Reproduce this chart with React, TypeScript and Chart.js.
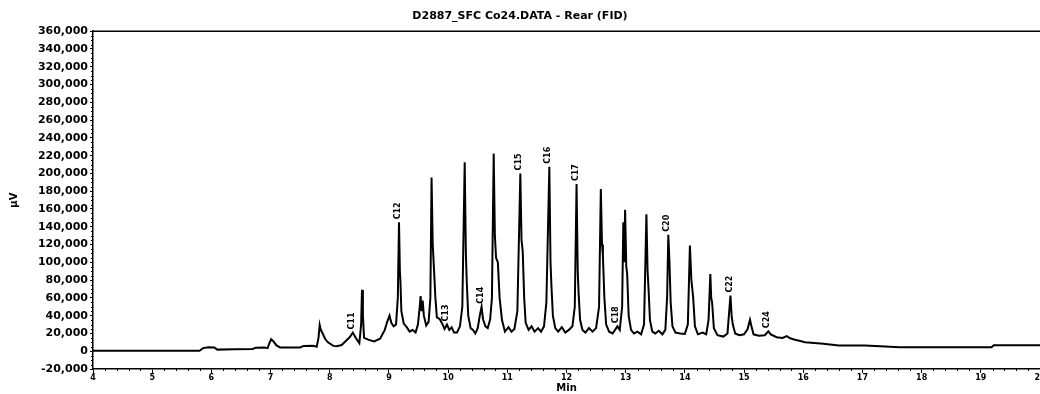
import { useEffect, useRef } from 'react';
import { Chart, registerables } from 'chart.js';

Chart.register(...registerables);

const TITLE = 'D2887_SFC Co24.DATA - Rear (FID)';
const X_TITLE = 'Min';
const Y_TITLE = 'µV';

// Retention time (min) of each trace point
const TRACE_TIME = [
  4.0, 5.8, 5.86, 5.95, 6.05, 6.1, 6.4, 6.7, 6.75, 6.9, 6.95, 6.98, 7.01, 7.05, 7.1, 7.16, 7.5, 7.56, 7.72, 7.78,
  7.81, 7.83, 7.85, 7.88, 7.92, 7.97, 8.06, 8.12, 8.2, 8.28, 8.34, 8.39, 8.44, 8.5, 8.53, 8.545, 8.56, 8.58, 8.65, 8.75,
  8.85, 8.93, 8.97, 9.01, 9.04, 9.08, 9.12, 9.15, 9.17, 9.185, 9.195, 9.21, 9.25, 9.3, 9.35, 9.4, 9.45, 9.49, 9.52, 9.535,
  9.55, 9.57, 9.59, 9.63, 9.67, 9.7, 9.72, 9.74, 9.76, 9.785, 9.81, 9.86, 9.9, 9.94, 9.98, 10.02, 10.06, 10.1, 10.15, 10.2,
  10.24, 10.28, 10.3, 10.315, 10.34, 10.38, 10.42, 10.46, 10.5, 10.535, 10.565, 10.59, 10.63, 10.67, 10.71, 10.74, 10.77, 10.79, 10.81, 10.84,
  10.87, 10.91, 10.96, 11.02, 11.07, 11.12, 11.17, 11.22, 11.24, 11.26, 11.285, 11.31, 11.36, 11.41, 11.46, 11.52, 11.57, 11.62, 11.66, 11.71,
  11.73, 11.745, 11.77, 11.81, 11.86, 11.92, 11.98, 12.04, 12.1, 12.14, 12.17, 12.19, 12.205, 12.23, 12.27, 12.32, 12.38, 12.44, 12.5, 12.55,
  12.58, 12.6, 12.615, 12.64, 12.67, 12.72, 12.78, 12.82, 12.86, 12.9, 12.94, 12.96, 12.975, 12.99, 13.01, 13.025, 13.05, 13.09, 13.14, 13.2,
  13.26, 13.31, 13.35, 13.37, 13.385, 13.41, 13.45, 13.5, 13.56, 13.62, 13.67, 13.7, 13.72, 13.74, 13.76, 13.79, 13.84, 13.92, 14.0, 14.05,
  14.085, 14.11, 14.14, 14.17, 14.22, 14.3, 14.36, 14.4, 14.43, 14.445, 14.46, 14.49, 14.55, 14.65, 14.72, 14.77, 14.79, 14.81, 14.85, 14.92,
  15.0, 15.06, 15.1, 15.125, 15.16, 15.25, 15.35, 15.41, 15.45, 15.55, 15.65, 15.72, 15.78, 15.86, 15.95, 16.03, 16.34, 16.6, 17.04, 17.3,
  17.63, 19.18, 19.22, 20.0,
];

// Detector signal (µV) at each trace point
const TRACE_UV = [
  500, 600, 3500, 4500, 4200, 1800, 2200, 2600, 4000, 4200, 3500, 9000, 13500, 11000, 6500, 4200, 4300, 6000, 6200, 5000,
  15000, 29600, 24000, 20000, 14000, 10000, 6000, 5500, 7000, 12000, 16000, 21000, 15000, 9000, 30000, 69000, 40000, 15000, 13000, 11000,
  14000, 24000, 33000, 40000, 32000, 28000, 30000, 60000, 145000, 90000, 77000, 45000, 31000, 27000, 22000, 24000, 21000, 30000, 50000, 62000,
  45000, 57000, 40000, 29000, 33000, 60000, 195500, 120000, 94000, 60000, 38000, 36000, 31000, 25000, 30000, 24000, 27000, 21000, 21000, 28000,
  50000, 212500, 110000, 77600, 40000, 26000, 24000, 20000, 26000, 40000, 50000, 36000, 28000, 26000, 36000, 60000, 222500, 130000, 105000, 100000,
  60000, 35000, 22000, 27000, 22000, 25000, 45000, 200000, 125000, 113000, 60000, 32000, 24000, 28000, 22000, 26000, 22000, 28000, 55000, 207500,
  100000, 74000, 40000, 26000, 22000, 27000, 21000, 24000, 28000, 50000, 188000, 90000, 64500, 35000, 24000, 21000, 26000, 22000, 26000, 50000,
  182500, 120000, 107600, 60000, 30000, 22000, 20000, 24000, 28000, 24000, 50000, 145000, 100000, 159000, 95000, 87000, 40000, 24000, 20000, 22000,
  19000, 30000, 154000, 90000, 72000, 35000, 22000, 20000, 23000, 19000, 24000, 61000, 131000, 100000, 55000, 28000, 21000, 20000, 19500, 30000,
  118800, 80000, 60700, 28000, 19000, 21000, 19000, 35000, 86900, 60000, 55000, 26000, 18000, 16500, 20000, 62600, 40000, 30000, 20000, 18000,
  19000, 25000, 35300, 28000, 19000, 17500, 18000, 22500, 19000, 15800, 15000, 17000, 14500, 13000, 11500, 10200, 8300, 6400, 6400, 5500,
  4500, 4500, 6800, 6800,
];

// Peak annotations
const PEAK_NAMES = ['C11', 'C12', 'C13', 'C14', 'C15', 'C16', 'C17', 'C18', 'C20', 'C22', 'C24'];
const PEAK_TIMES = [8.39, 9.17, 9.98, 10.565, 11.22, 11.71, 12.17, 12.86, 13.72, 14.77, 15.41];
const PEAK_HEIGHTS = [21000, 145000, 30000, 50000, 200000, 207500, 188000, 28000, 131000, 62600, 22500];

const X_MIN = 4;
const X_MAX = 20;
const Y_MIN = -20000;
const Y_MAX = 360000;
const Y_STEP = 20000;

const FONT = '"DejaVu Sans", "Liberation Sans", sans-serif';

const decorPlugin = {
  id: 'decor',
  afterDatasetsDraw(chart: any) {
    const { ctx, chartArea, scales } = chart;
    const xs = scales.x;
    const ys = scales.y;
    ctx.save();
    // top frame line
    ctx.strokeStyle = '#000';
    ctx.lineWidth = 1.5;
    ctx.beginPath();
    ctx.moveTo(chartArea.left, chartArea.top);
    ctx.lineTo(chartArea.right, chartArea.top);
    ctx.stroke();
    // minor ticks on x
    ctx.lineWidth = 1;
    ctx.beginPath();
    for (let i = 0; i <= (X_MAX - X_MIN) * 5; i++) {
      if (i % 5 === 0) continue;
      const px = Math.round(xs.getPixelForValue(X_MIN + i * 0.2)) + 0.5;
      ctx.moveTo(px, chartArea.bottom);
      ctx.lineTo(px, chartArea.bottom + 2);
    }
    // minor ticks on y
    for (let v = Y_MIN; v <= Y_MAX; v += 5000) {
      if (v % Y_STEP === 0) continue;
      const py = Math.round(ys.getPixelForValue(v)) + 0.5;
      ctx.moveTo(chartArea.left, py);
      ctx.lineTo(chartArea.left - 2, py);
    }
    ctx.stroke();
    // peak labels, rotated
    ctx.fillStyle = '#000';
    ctx.font = `bold 8px ${FONT}`;
    ctx.textAlign = 'left';
    ctx.textBaseline = 'middle';
    PEAK_NAMES.forEach((name, i) => {
      const px = xs.getPixelForValue(PEAK_TIMES[i]) - 1;
      const py = ys.getPixelForValue(PEAK_HEIGHTS[i]) - 3;
      ctx.save();
      ctx.translate(px, py);
      ctx.rotate(-Math.PI / 2);
      ctx.fillText(name, 0, 0);
      ctx.restore();
    });
    ctx.restore();
  },
};

export default function App() {
  const canvasRef = useRef<HTMLCanvasElement | null>(null);

  useEffect(() => {
    document.body.style.margin = '0';
    const canvas = canvasRef.current;
    if (!canvas) return;
    const chart = new Chart(canvas, {
      type: 'line',
      data: {
        datasets: [
          {
            data: TRACE_TIME.map((t, i) => ({ x: t, y: TRACE_UV[i] })),
            borderColor: '#000',
            borderWidth: 2,
            pointRadius: 0,
            tension: 0,
            fill: false,
          },
        ],
      },
      options: {
        animation: false,
        responsive: false,
        devicePixelRatio: 1,
        layout: { padding: 0 },
        plugins: {
          legend: { display: false },
          tooltip: { enabled: false },
          title: {
            display: true,
            text: TITLE,
            color: '#000',
            font: { family: FONT, size: 11, weight: 'bold' },
            padding: { top: 10, bottom: 8 },
          },
        },
        scales: {
          x: {
            type: 'linear',
            min: X_MIN,
            max: X_MAX,
            ticks: {
              stepSize: 1,
              autoSkip: false,
              maxRotation: 0,
              color: '#000',
              padding: 0,
              font: { family: FONT, size: 8, weight: 'bold' },
            },
            grid: { display: true, drawOnChartArea: false, tickLength: 4, color: '#000' },
            border: { display: true, color: '#000', width: 1.5 },
            title: {
              display: true,
              text: X_TITLE,
              color: '#000',
              font: { family: FONT, size: 10, weight: 'bold' },
              padding: 0,
            },
            afterFit(scale: any) {
              scale.height = 25;
              scale.paddingLeft = 0;
              scale.paddingRight = 0;
            },
          },
          y: {
            type: 'linear',
            min: Y_MIN,
            max: Y_MAX,
            ticks: {
              stepSize: Y_STEP,
              color: '#000',
              padding: 2,
              font: { family: FONT, size: 11, weight: 'bold' },
              callback: (v: any) => Number(v).toLocaleString('en-US'),
            },
            grid: { display: true, drawOnChartArea: false, tickLength: 3, color: '#000' },
            border: { display: true, color: '#000', width: 1.5 },
            title: {
              display: true,
              text: Y_TITLE,
              color: '#000',
              font: { family: FONT, size: 10, weight: 'bold' },
              padding: { top: 8, bottom: 0 },
            },
            afterFit(scale: any) {
              scale.width = 93;
            },
          },
        },
      },
      plugins: [decorPlugin],
    });
    return () => chart.destroy();
  }, []);

  return (
    <div style={{ width: 1040, height: 394, position: 'relative', background: '#fff' }}>
      <canvas ref={canvasRef} width={1040} height={394} style={{ display: 'block' }} />
    </div>
  );
}
